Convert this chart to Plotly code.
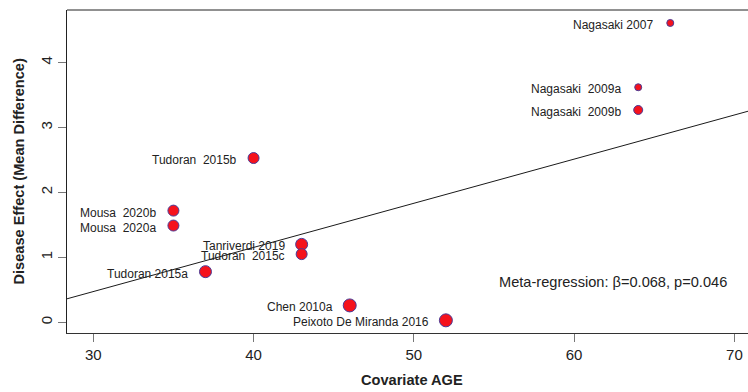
import plotly.graph_objects as go

# Study-level data: covariate (mean age) and effect size (mean difference)
studies = [
    "Nagasaki 2007", "Nagasaki \u00a02009a", "Nagasaki \u00a02009b", "Tudoran \u00a02015b",
    "Mousa \u00a02020b", "Mousa \u00a02020a", "Tudoran 2015a", "Tanriverdi 2019",
    "Tudoran \u00a02015c", "Chen 2010a", "Peixoto De Miranda 2016",
]
age = [66, 64, 64, 40, 35, 35, 37, 43, 43, 46, 52]
effect = [4.61, 3.62, 3.27, 2.53, 1.72, 1.49, 0.78, 1.20, 1.05, 0.26, 0.03]
# marker diameters in px (study weights)
marker_px = [7, 7, 9, 11, 11, 11, 12, 12, 11, 13, 13]

# Meta-regression fit
intercept = -1.567
slope = 0.068
beta_text = "0.068"
p_text = "0.046"

x_ticks = [30, 40, 50, 60, 70]
y_ticks = [0, 1, 2, 3, 4]

FONT = "Liberation Sans, Arial, Helvetica, sans-serif"
X_RANGE = [28.36, 70.85]
Y_RANGE = [-0.165, 4.81]

# plot area geometry in px
M_L, M_T, M_B = 67, 10, 59
H = 392
PLOT_H = H - M_T - M_B

fig = go.Figure()

line_x = [X_RANGE[0] - 5, X_RANGE[1] + 5]
fig.add_trace(go.Scatter(
    x=line_x, y=[intercept + slope * v for v in line_x],
    mode="lines", line=dict(color="#1a1a1a", width=1), hoverinfo="skip",
))

fig.add_trace(go.Scatter(
    x=age, y=effect, mode="markers",
    marker=dict(size=marker_px, color="#F5121C", opacity=1,
                line=dict(color="#4A3C98", width=1)),
    text=studies, hoverinfo="text",
))

annotations = []
for name, xv, yv in zip(studies, age, effect):
    annotations.append(dict(
        x=xv, y=yv, xref="x", yref="y", text=name, showarrow=False,
        xanchor="right", yanchor="middle", xshift=-15, yshift=-2,
        font=dict(family=FONT, size=12, color="#222222"),
    ))

annotations.append(dict(
    x=69.67, y=0.626, xref="x", yref="y", xanchor="right", yanchor="middle",
    text=f"Meta-regression: \u03b2={beta_text}, p={p_text}", showarrow=False,
    font=dict(family=FONT, size=14.6, color="#222222"),
))
annotations.append(dict(
    x=(412 - M_L) / (748 - M_L), y=(H - M_B - 380) / PLOT_H,
    xref="paper", yref="paper", yanchor="middle", xanchor="center",
    text="<b>Covariate AGE</b>", showarrow=False,
    font=dict(family=FONT, size=14.6, color="#222222"),
))
annotations.append(dict(
    x=0, y=0.5, xref="paper", yref="paper", xanchor="center", yanchor="middle",
    xshift=18 - M_L,
    text="<b>Disease Effect (Mean Difference)</b>", showarrow=False, textangle=-90,
    font=dict(family=FONT, size=14.6, color="#222222"),
))

fig.update_layout(
    width=748, height=H,
    margin=dict(l=M_L, r=0, t=M_T, b=M_B),
    paper_bgcolor="white", plot_bgcolor="white",
    showlegend=False,
    font=dict(family=FONT, color="#222222"),
    annotations=annotations,
    shapes=[dict(type="line", xref="paper", yref="paper", x0=0, x1=1, y0=1, y1=1,
                 line=dict(color="#222222", width=1))],
    xaxis=dict(
        range=X_RANGE, tickvals=x_ticks, ticks="outside", ticklen=8,
        tickcolor="#777777", showline=True, linecolor="#333333", linewidth=1,
        showgrid=False, zeroline=False, tickfont=dict(size=15, color="#222222"),
    ),
    yaxis=dict(
        range=Y_RANGE, tickvals=y_ticks, ticks="outside", ticklen=8,
        tickcolor="#777777", showline=True, linecolor="#222222", linewidth=1,
        showgrid=False, zeroline=False, tickangle=-90,
        tickfont=dict(size=15, color="#222222"),
    ),
)

fig.write_html("out.html")
